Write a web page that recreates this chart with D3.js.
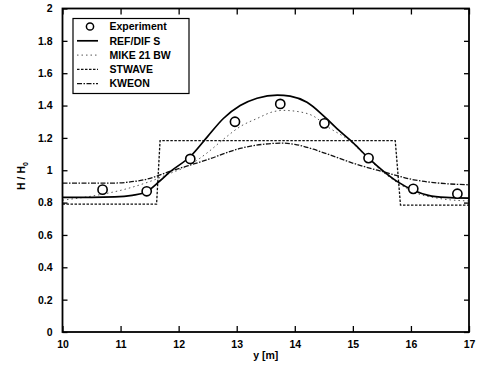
<!DOCTYPE html>
<html><head><meta charset="utf-8">
<script src="https://cdn.jsdelivr.net/npm/d3@7"></script>
<style>body{margin:0;background:#fff}text{font-family:"Liberation Sans",Arial,sans-serif;font-weight:bold;fill:#000}</style>
</head><body><svg id="c" width="481" height="374"></svg>
<script>
const xTicks=[10,11,12,13,14,15,16,17];
const yTicks=[0,0.2,0.4,0.6,0.8,1,1.2,1.4,1.6,1.8,2];
const yTickLabels=["0","0.2","0.4","0.6","0.8","1","1.2","1.4","1.6","1.8","2"];

const expX=[10.69,11.45,12.2,12.97,13.75,14.51,15.27,16.04,16.8];
const expY=[0.88,0.87,1.07,1.30,1.41,1.29,1.075,0.885,0.855];

const refX=[10,10.5,10.9,11.2,11.42,11.68,11.85,12.2,12.49,12.77,13.06,13.35,13.7,13.92,14.21,14.5,14.78,15.01,15.27,15.53,15.76,16.05,16.3,16.6,17];
const refY=[0.832,0.832,0.835,0.845,0.862,0.935,0.99,1.085,1.205,1.32,1.40,1.445,1.465,1.458,1.42,1.335,1.24,1.168,1.075,0.993,0.931,0.875,0.845,0.832,0.828];

const mikeX=[10,10.5,11.1,11.5,11.85,12.2,12.5,12.8,13.06,13.35,13.63,13.8,14.1,14.32,14.56,14.96,15.27,15.53,15.76,16.05,16.5,17];
const mikeY=[0.815,0.84,0.885,0.93,0.98,1.035,1.11,1.2,1.27,1.32,1.362,1.37,1.36,1.335,1.27,1.178,1.07,0.985,0.925,0.865,0.825,0.81];

const stwX=[10,11.62,11.68,15.73,15.82,17];
const stwY=[0.79,0.79,1.183,1.183,0.785,0.785];

const kwX=[10,10.8,11.39,11.91,12.49,13.06,13.63,13.8,14.0,14.32,14.5,15.07,15.53,16.05,16.5,17];
const kwY=[0.92,0.92,0.94,1.0,1.065,1.135,1.166,1.168,1.16,1.13,1.108,1.036,0.99,0.941,0.92,0.91];

const legendLabels=["Experiment","REF/DIF S","MIKE 21 BW","STWAVE","KWEON"];

const svg=d3.select("#c");
const L=62.5,R=469,T=8.5,B=332;
const x=d3.scaleLinear().domain([10,17]).range([L,R]);
const y=d3.scaleLinear().domain([0,2]).range([B,T]);

const styles={
 ref:{stroke:"#000",w:1.7,dash:null},
 mike:{stroke:"#555",w:1,dash:"1.5,3"},
 stw:{stroke:"#111",w:1.3,dash:"2.5,1.5"},
 kw:{stroke:"#111",w:1.3,dash:"5,1.5,1.5,1.5"}
};
const line=d3.line().x(d=>x(d[0])).y(d=>y(d[1]));
function draw(xs,ys,st,curve){
  svg.append("path").attr("d",line.curve(curve)(xs.map((v,i)=>[v,ys[i]])))
   .attr("fill","none").attr("stroke",st.stroke).attr("stroke-width",st.w)
   .attr("stroke-dasharray",st.dash);
}
draw(stwX,stwY,styles.stw,d3.curveLinear);
draw(kwX,kwY,styles.kw,d3.curveMonotoneX);
draw(mikeX,mikeY,styles.mike,d3.curveMonotoneX);
draw(refX,refY,styles.ref,d3.curveMonotoneX);

svg.append("g").selectAll("circle").data(expX).join("circle")
 .attr("cx",(d)=>x(d)).attr("cy",(d,i)=>y(expY[i])).attr("r",4.6)
 .attr("fill","#fff").attr("stroke","#000").attr("stroke-width",1.6);

// axes
const fs="10.5px";
const gb=svg.append("g").attr("transform",`translate(0,${B})`)
 .call(d3.axisBottom(x).tickValues(xTicks).tickSize(-6).tickPadding(9).tickFormat(d3.format("d")));
const gt=svg.append("g").attr("transform",`translate(0,${T})`)
 .call(d3.axisTop(x).tickValues(xTicks).tickSize(-6).tickFormat(""));
const gl=svg.append("g").attr("transform",`translate(${L},0)`)
 .call(d3.axisLeft(y).tickValues(yTicks).tickSize(-5).tickPadding(10).tickFormat((d,i)=>yTickLabels[i]));
const gr=svg.append("g").attr("transform",`translate(${R},0)`)
 .call(d3.axisRight(y).tickValues(yTicks).tickSize(-5).tickFormat(""));
[gb,gt,gl,gr].forEach(g=>{
  g.select(".domain").remove();
  g.selectAll(".tick line").attr("stroke","#000").attr("stroke-width",1.3);
  g.selectAll("text").attr("font-size",fs).attr("font-family",'"Liberation Sans",Arial,sans-serif').attr("font-weight","bold").attr("fill","#000");
});
svg.append("rect").attr("x",L).attr("y",T).attr("width",R-L).attr("height",B-T)
 .attr("fill","none").attr("stroke","#000").attr("stroke-width",1.8);

svg.append("text").attr("x",(L+R)/2).attr("y",359).attr("text-anchor","middle").attr("font-size","10.5px").text("y [m]");
const yl=svg.append("text").attr("transform","translate(25,176) rotate(-90)").attr("text-anchor","middle").attr("font-size","10.5px");
yl.append("tspan").text("H / H");
yl.append("tspan").attr("font-size","7px").attr("dy","2.5").text("0");

// legend
const lg=svg.append("g");
lg.append("rect").attr("x",73).attr("y",18.5).attr("width",116).attr("height",75)
 .attr("fill","#fff").attr("stroke","#000").attr("stroke-width",1.2);
const rowY=i=>26.5+i*14.3;
const stl=[null,styles.ref,styles.mike,styles.stw,styles.kw];
legendLabels.forEach((lab,i)=>{
  if(i===0){
    lg.append("circle").attr("cx",90).attr("cy",rowY(i)).attr("r",3.6).attr("fill","#fff").attr("stroke","#000").attr("stroke-width",1.5);
  } else {
    const st=stl[i];
    lg.append("line").attr("x1",77).attr("x2",98).attr("y1",rowY(i)).attr("y2",rowY(i))
     .attr("stroke",st.stroke).attr("stroke-width",st.w).attr("stroke-dasharray",st.dash);
  }
  lg.append("text").attr("x",109.5).attr("y",rowY(i)+3.7).attr("font-size","10.5px").text(lab);
});
</script></body></html>
